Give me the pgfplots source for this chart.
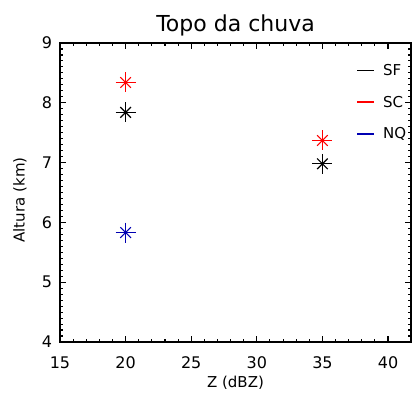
\documentclass[border=0pt]{standalone}
\usepackage{pgfplots}
\pgfplotsset{compat=1.18}
\usepackage{fontspec}
\setmainfont{DejaVu Sans}
\begin{document}
\begin{tikzpicture}[x=1pt,y=1pt]
\begin{axis}[
  scale only axis,
  width=351pt, height=299pt,
  xmin=15, xmax=41.75, ymin=4, ymax=9,
  xtick={15,20,25,30,35,40},
  ytick={4,5,6,7,8,9},
  minor x tick num=4,
  minor y tick num=9,
  tick align=inside,
  major tick length=6pt,
  minor tick length=3pt,
  every tick/.style={black, line width=1.1pt},
  axis line style={line width=1.3pt},
  tick label style={font=\fontsize{16}{16}\selectfont},
  /pgf/number format/assume math mode=true,
  xticklabel style={anchor=center, yshift=-21pt},
  yticklabel style={anchor=center, xshift=-13pt},
  title={Topo da chuva},
  title style={font=\fontsize{22}{22}\selectfont, yshift=-3pt},
  xlabel={Z (dBZ)},
  xlabel style={font=\fontsize{15}{15}\selectfont, at={(axis description cs:0.5,-0.137)}, anchor=center},
  ylabel={Altura (km)},
  ylabel style={font=\fontsize{15}{15}\selectfont, at={(axis description cs:-0.114,0.475)}, anchor=center},
  legend style={draw=none, fill=none, at={(axis cs:41.55,8.68)}, anchor=north east,
    font=\fontsize{15}{15}\selectfont, row sep=15pt, inner sep=0pt},
  legend cell align=left,
  legend image code/.code={\draw[#1, line width=1.6pt] (0pt,0pt) -- (17pt,0pt);},
]
\addlegendimage{black}
\addlegendentry{\hspace{6pt}SF}
\addlegendimage{red}
\addlegendentry{\hspace{6pt}SC}
\addlegendimage{blue!70!black}
\addlegendentry{\hspace{6pt}NQ}
% SF
\addplot[only marks, black, mark=+, mark size=10pt, line width=1.1pt, forget plot] coordinates {(20,7.84) (35,6.98)};
\addplot[only marks, black, mark=x, mark size=7.5pt, line width=1.1pt, forget plot] coordinates {(20,7.84) (35,6.98)};
% SC
\addplot[only marks, red, mark=+, mark size=10pt, line width=1.1pt, forget plot] coordinates {(20,8.34) (35,7.37)};
\addplot[only marks, red, mark=x, mark size=7.5pt, line width=1.1pt, forget plot] coordinates {(20,8.34) (35,7.37)};
% NQ
\addplot[only marks, blue!70!black, mark=+, mark size=10pt, line width=1.1pt, forget plot] coordinates {(20,5.83)};
\addplot[only marks, blue!70!black, mark=x, mark size=7.5pt, line width=1.1pt, forget plot] coordinates {(20,5.83)};
\end{axis}
\pgfresetboundingbox
\useasboundingbox (current axis.south west) ++(-60pt,-50pt) rectangle ++(414pt,392pt);
\end{tikzpicture}
\end{document}
